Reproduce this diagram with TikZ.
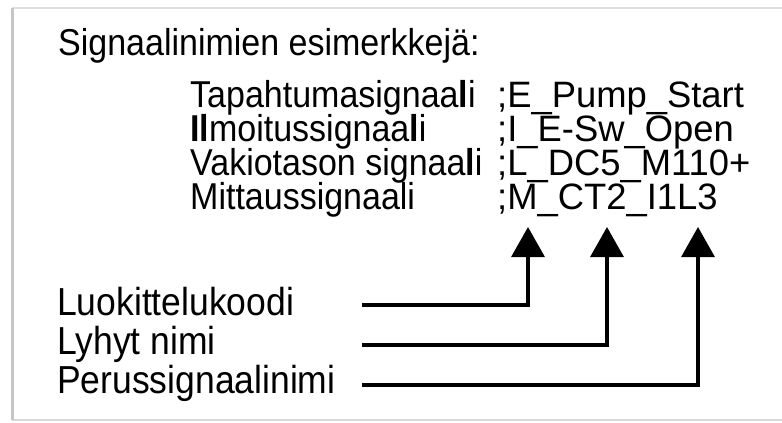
\documentclass[tikz,border=0pt]{standalone}
\usepackage{fontspec}
\setmainfont{Liberation Sans}
\usetikzlibrary{arrows.meta}
\newcommand{\rowtxt}[1]{\scalebox{1}[1.1]{#1}}
\newcommand{\valtxt}[1]{\scalebox{1.07}[1.08]{#1}}
\begin{document}
\begin{tikzpicture}[x=1pt,y=-1pt,
  txt/.style={anchor=base west,inner sep=0pt,font=\fontsize{34}{40}\selectfont},
  big/.style={txt,font=\fontsize{35.5}{40}\selectfont},
  conn/.style={line width=3.2pt,line join=miter,-{Triangle[width=33pt,length=30pt]}},
  frame/.style={line width=1.6pt}]
\useasboundingbox (0,0) rectangle (782,423);
\fill[white] (0,0) rectangle (782,423);
% frame
\draw[frame,gray!25] (12,8) -- (782,8);
\draw[frame,gray!30] (12,420) -- (782,420);
\draw[line width=3pt,gray!45] (12,8) -- (12,420);
% title
\node[txt] (title) at (58,55) {\rowtxt{Signaalinimien esimerkkejä:}};
% rows
\node[txt] (n1) at (190,107) {\rowtxt{Tapahtumasignaa\textbf{l}i}};
\node[txt] (n2) at (190,141) {\rowtxt{\textbf{Il}moitussignaa\textbf{l}i}};
\node[txt] (n3) at (190,175) {\rowtxt{Vakiotason signaa\textbf{l}i}};
\node[txt] (n4) at (190,209) {\rowtxt{Mittaussignaali}};
\node[txt] (v1) at (497,107) {\valtxt{;E\_Pump\_Start}};
\node[txt] (v2) at (497,141) {\valtxt{;I\_E-Sw\_Open}};
\node[txt] (v3) at (497,175) {\valtxt{;L\_DC5\_M110+}};
\node[txt] (v4) at (497,209) {\valtxt{;M\_CT2\_I1L3}};
% bottom labels
\node[big] (l1) at (57,315) {\rowtxt{Luokittelukoodi}};
\node[big] (l2) at (57,354) {\rowtxt{Lyhyt nimi}};
\node[big] (l3) at (57,393) {\rowtxt{Perussignaalinimi}};
% connector coordinates
\coordinate (s1) at (362,305);
\coordinate (s2) at (362,345);
\coordinate (s3) at (362,385);
\coordinate (t1) at (528,227);
\coordinate (t2) at (607,227);
\coordinate (t3) at (698,227);
\draw[conn] (s1) -| (t1);
\draw[conn] (s2) -| (t2);
\draw[conn] (s3) -| (t3);
\end{tikzpicture}
\end{document}
